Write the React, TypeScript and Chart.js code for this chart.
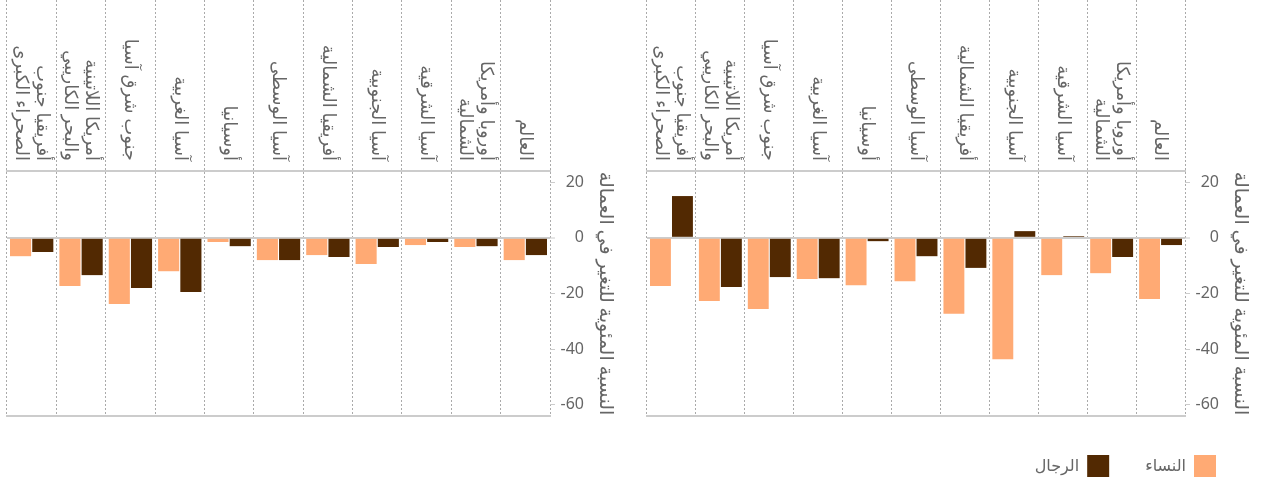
import React, { useEffect, useRef } from 'react';
import { Chart, registerables } from 'chart.js';

Chart.register(...registerables);

const FONT = "'Noto Sans', 'DejaVu Sans', sans-serif";

// Categories, drawn right-to-left (first item at the right edge)
const categories: (string | string[])[] = [
  'العالم',
  ['أوروبا وأمريكا', 'الشمالية'],
  'آسيا الشرقية',
  'آسيا الجنوبية',
  'أفريقيا الشمالية',
  'آسيا الوسطى',
  'أوسيانيا',
  'آسيا الغربية',
  'جنوب شرق آسيا',
  ['أمريكا اللاتينية', 'والبحر الكاريبي'],
  ['أفريقيا جنوب', 'الصحراء الكبرى'],
];

const seriesNames = ['النساء', 'الرجال'];
const seriesColors = ['#FFAA74', '#522902'];

// Left panel
const leftWomen = [-8.0, -3.3, -2.6, -9.4, -6.2, -8.0, -1.5, -12.0, -23.8, -17.3, -6.6];
const leftMen = [-6.2, -3.0, -1.5, -3.3, -6.9, -8.0, -3.0, -19.5, -18.0, -13.4, -5.1];

// Right panel
const rightWomen = [-22.0, -12.7, -13.4, -43.6, -27.3, -15.6, -17.0, -14.8, -25.6, -22.7, -17.3];
const rightMen = [-2.6, -6.9, 0.6, 2.4, -10.8, -6.6, -1.2, -14.5, -14.1, -17.7, 15.0];

const yTicks = [20, 0, -20, -40, -60];
const yMin = -64;
const yMax = 24;
const yTitle = 'النسبة المئوية للتغير في العمالة';

const LABEL_FONT_SIZE = 18;
const LABEL_LINE_H = 21;

const categoryLabelPlugin = {
  id: 'categoryLabels',
  afterDraw(chart: any) {
    const xs = chart.scales.x;
    const ctx = chart.ctx as CanvasRenderingContext2D;
    ctx.save();
    ctx.font = `${LABEL_FONT_SIZE}px ${FONT}`;
    ctx.fillStyle = '#666';
    ctx.textAlign = 'right';
    ctx.textBaseline = 'middle';
    (chart.data.labels as any[]).forEach((lab, i) => {
      const lines: string[] = Array.isArray(lab) ? lab : [lab];
      const x = xs.getPixelForValue(i);
      const y = xs.bottom - 10;
      ctx.save();
      ctx.translate(x, y);
      ctx.rotate(Math.PI / 2);
      lines.forEach((ln, j) => {
        const off = (j - (lines.length - 1) / 2) * LABEL_LINE_H;
        ctx.fillText(ln, 0, off);
      });
      ctx.restore();
    });
    ctx.restore();
  },
};

function makeChart(canvas: HTMLCanvasElement, women: number[], men: number[], withLegend: boolean) {
  return new Chart(canvas, {
    type: 'bar',
    data: {
      labels: categories as any,
      datasets: [
        { label: seriesNames[0], data: women, backgroundColor: seriesColors[0], xAxisID: 'x', yAxisID: 'y', categoryPercentage: 0.9, barPercentage: 0.95 },
        { label: seriesNames[1], data: men, backgroundColor: seriesColors[1], xAxisID: 'x', yAxisID: 'y', categoryPercentage: 0.9, barPercentage: 0.95 },
      ],
    },
    options: {
      responsive: false,
      animation: false,
      events: [],
      layout: { padding: { left: 7, right: 15, top: 0, bottom: withLegend ? -3 : 65 } },
      plugins: {
        legend: {
          display: withLegend,
          position: 'bottom',
          align: 'start',
          rtl: true,
          labels: { boxWidth: 22, boxHeight: 22, padding: 36, color: '#666', font: { size: 16, family: FONT } },
        },
        tooltip: { enabled: false },
      },
      scales: {
        x: {
          position: 'top',
          reverse: true,
          offset: true,
          afterFit: (s: any) => { s.height = 171; },
          grid: { color: '#aaa', lineWidth: 1, tickLength: 171, tickColor: '#aaa', tickBorderDash: [2, 2], offset: true },
          border: { display: true, color: '#ccc', width: 2, dash: [2, 2] },
          ticks: { display: false },
        },
        x2: {
          type: 'category',
          position: 'bottom',
          reverse: true,
          offset: true,
          afterFit: (s: any) => { s.height = 3; },
          grid: { display: false, drawTicks: false },
          border: { display: true, color: '#ccc', width: 2 },
          ticks: { display: false },
        },
        y: {
          position: 'right',
          weight: 0,
          min: yMin,
          max: yMax,
          afterBuildTicks: (s: any) => { s.ticks = yTicks.map((v) => ({ value: v })); },
          afterFit: (s: any) => { s.width = 34; },
          grid: {
            color: (c: any) => (c.tick && c.tick.value === 0 ? '#ccc' : 'rgba(0,0,0,0)'),
            lineWidth: (c: any) => (c.tick && c.tick.value === 0 ? 2 : 1),
            tickColor: '#ccc',
            tickWidth: 1,
            tickLength: 5,
          },
          border: { display: false },
          ticks: { crossAlign: 'far', padding: 0, color: '#666', font: { size: 16, family: FONT } },
        },
        yTitle: {
          type: 'linear',
          position: 'right',
          weight: 1,
          afterFit: (s: any) => { s.width = 33; },
          grid: { display: false, drawTicks: false },
          border: { display: false },
          ticks: { display: false },
          title: { display: true, text: yTitle, color: '#666', font: { size: 19, family: FONT }, padding: { top: 0, bottom: 0 } },
        },
      },
    } as any,
    plugins: [categoryLabelPlugin],
  });
}

export default function App() {
  const leftRef = useRef<HTMLCanvasElement>(null);
  const rightRef = useRef<HTMLCanvasElement>(null);

  useEffect(() => {
    Chart.defaults.font.family = FONT;
    Chart.defaults.font.size = 16;
    Chart.defaults.color = '#666';
    const c1 = makeChart(leftRef.current!, leftWomen, leftMen, false);
    const c2 = makeChart(rightRef.current!, rightWomen, rightMen, true);
    return () => {
      c1.destroy();
      c2.destroy();
    };
  }, []);

  return (
    <div style={{ position: 'fixed', left: 0, top: 0, width: 1267, height: 484, background: '#fff', overflow: 'hidden' }}>
      <canvas ref={leftRef} width={632} height={484} style={{ position: 'absolute', left: 0, top: 0, width: 632, height: 484 }} />
      <canvas ref={rightRef} width={627} height={484} style={{ position: 'absolute', left: 640, top: 0, width: 627, height: 484 }} />
    </div>
  );
}
